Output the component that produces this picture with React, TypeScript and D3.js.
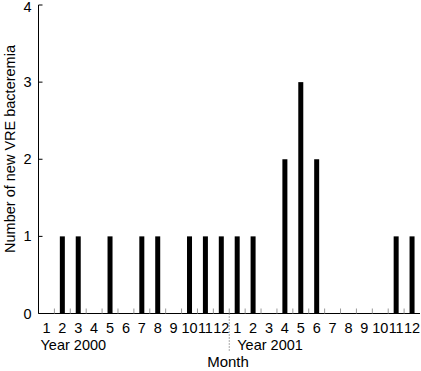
import React from "react";
import * as d3 from "d3";

const months = ["1","2","3","4","5","6","7","8","9","10","11","12","1","2","3","4","5","6","7","8","9","10","11","12"];
const counts = [0,1,1,0,1,0,1,1,0,1,1,1, 1,1,0,2,3,2,0,0,0,0,1,1];
const yTicks = [0,1,2,3,4];
const yearLabels = ["Year 2000", "Year 2001"];

export default function App() {
  const W = 421, H = 371;
  const left = 38.5, right = 420, top = 5, bottom = 313.5;
  const idx = months.map((_, i) => i);
  const x = d3.scaleBand<number>().domain(idx).range([left, right]).padding(0);
  const y = d3.scaleLinear().domain([0, 4]).range([bottom, top]);
  const bw = 5;
  const font = "Arial, 'Liberation Sans', sans-serif";
  const step = x.step();
  return (
    <svg width={W} height={H} style={{ position: "absolute", left: 0, top: 0 }} fontFamily={font}>
      {counts.map((v, i) => v > 0 ? (
        <rect key={i} x={x(i)! + step / 2 - bw / 2} y={y(v)} width={bw} height={bottom - y(v)} fill="#000" />
      ) : null)}
      <line x1={left} x2={left} y1={top} y2={bottom} stroke="#000" strokeWidth={1} />
      <line x1={left} x2={right} y1={bottom} y2={bottom} stroke="#000" strokeWidth={1} />
      {yTicks.map(t => (
        <g key={t}>
          <line x1={left} x2={left + 4} y1={y(t)} y2={y(t)} stroke="#000" />
          <text x={left - 7} y={t === 4 ? y(t) + 1.5 : y(t)} dy="0.35em" textAnchor="end" fontSize={14.5}>{t}</text>
        </g>
      ))}
      {idx.slice(1).map(i => (
        <line key={i} x1={x(i)!} x2={x(i)!} y1={bottom} y2={bottom - 5} stroke="#999" />
      ))}
      {months.map((m, i) => (
        <text key={i} x={x(i)! + step / 2} y={333} textAnchor="middle" fontSize={14.5}>{m}</text>
      ))}
      <line x1={x(12)!} x2={x(12)!} y1={bottom} y2={352} stroke="#555" strokeDasharray="1,2" />
      <text x={x(0)! + 2} y={350} fontSize={14.5}>{yearLabels[0]}</text>
      <text x={x(12)! + 8} y={350} fontSize={14.5}>{yearLabels[1]}</text>
      <text x={228} y={367} textAnchor="middle" fontSize={15}>Month</text>
      <text transform={`translate(15,149) rotate(-90)`} textAnchor="middle" fontSize={14.5}>Number of new VRE bacteremia</text>
    </svg>
  );
}
